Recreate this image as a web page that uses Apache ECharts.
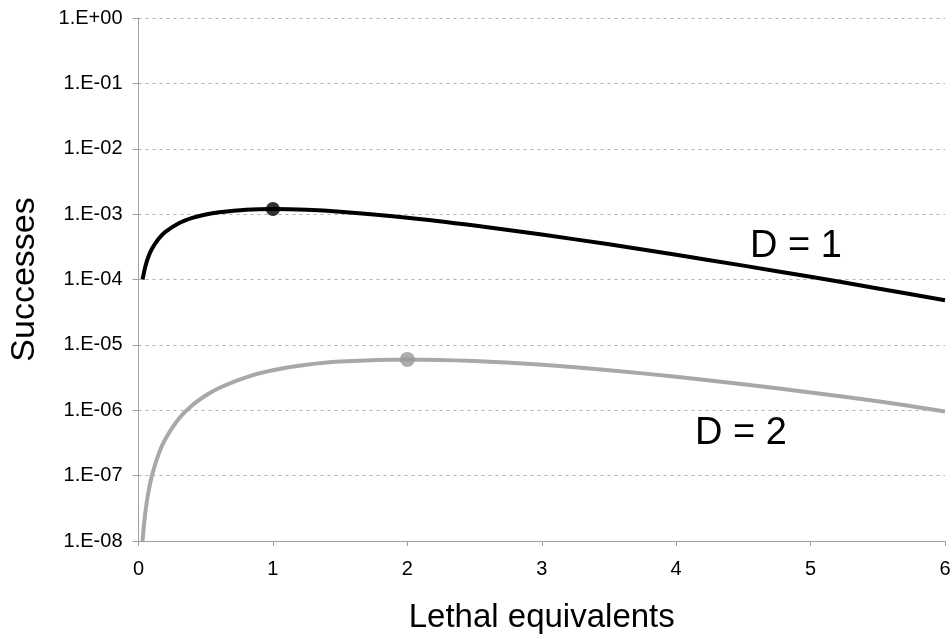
<!DOCTYPE html>
<html>
<head>
<meta charset="utf-8">
<script src="https://cdn.jsdelivr.net/npm/echarts@6/dist/echarts.min.js"></script>
<style>html,body{margin:0;padding:0;background:#fff}#c{width:952px;height:639px}</style>
</head>
<body>
<div id="c"></div>
<script>
// Lethal equivalents (x) sampled along the curves
var lethal = [0.03, 0.04, 0.05, 0.07, 0.1, 0.15, 0.2, 0.3, 0.4, 0.5, 0.6, 0.8, 1.0, 1.25, 1.5, 2.0, 2.5, 3.0, 3.5, 4.0, 4.5, 5.0, 5.5, 6.0];
// D = 1 successes
var successD1 = [1.0e-4, 1.25e-4, 1.55e-4, 2.13e-4, 2.95e-4, 4.21e-4, 5.34e-4, 7.24e-4, 8.74e-4, 9.89e-4, 1.07e-3, 1.17e-3, 1.20e-3, 1.17e-3, 1.09e-3, 8.82e-4, 6.69e-4, 4.87e-4, 3.45e-4, 2.39e-4, 1.63e-4, 1.10e-4, 7.3e-5, 4.8e-5];
// D = 2 successes
var successD2 = [1.0e-8, 1.7e-8, 2.63e-8, 5.05e-8, 1.0e-7, 2.15e-7, 3.63e-7, 7.39e-7, 1.19e-6, 1.68e-6, 2.19e-6, 3.19e-6, 4.08e-6, 4.96e-6, 5.56e-6, 6.0e-6, 5.68e-6, 4.97e-6, 4.10e-6, 3.25e-6, 2.49e-6, 1.87e-6, 1.37e-6, 9.6e-7];
// highlighted optimum points
var peakD1 = [1, 1.2e-3];
var peakD2 = [2, 6.0e-6];
// tick labels
var yTickLabels = ['1.E-08', '1.E-07', '1.E-06', '1.E-05', '1.E-04', '1.E-03', '1.E-02', '1.E-01', '1.E+00'];
var xTickLabels = ['0', '1', '2', '3', '4', '5', '6'];
var seriesNames = ['D = 1', 'D = 2'];

function pairs(xs, ys) { return xs.map(function (x, i) { return [x, ys[i]]; }); }

var font = 'Liberation Sans, Arial, sans-serif';
var chart = echarts.init(document.getElementById('c'), null, { renderer: 'canvas' });
chart.setOption({
  animation: false,
  backgroundColor: '#fff',
  grid: { left: 138.5, right: 7, top: 18, bottom: 98, containLabel: false, outerBoundsMode: 'none' },
  xAxis: {
    type: 'value', min: 0, max: 6, interval: 1,
    name: 'Lethal equivalents', nameLocation: 'middle', nameGap: 60,
    nameTextStyle: { fontFamily: font, fontSize: 33, color: '#000' },
    axisLine: { show: true, lineStyle: { color: '#a0a0a0', width: 1 } },
    axisTick: { show: true, length: 5, lineStyle: { color: '#a0a0a0' } },
    axisLabel: { fontFamily: font, fontSize: 20, color: '#000', margin: 18,
      formatter: function (v) { return xTickLabels[Math.round(v)]; } },
    splitLine: { show: false }
  },
  yAxis: {
    type: 'log', logBase: 10, min: 1e-8, max: 1, interval: 1,
    name: 'Successes', nameLocation: 'middle', nameGap: 97, nameRotate: 90,
    nameTextStyle: { fontFamily: font, fontSize: 34, color: '#000' },
    axisLine: { show: true, lineStyle: { color: '#a0a0a0', width: 1 } },
    axisTick: { show: true, length: 6, lineStyle: { color: '#a0a0a0' } },
    axisLabel: { fontFamily: font, fontSize: 20, color: '#000', margin: 16,
      formatter: function (v) { return yTickLabels[Math.round(Math.log10(v)) + 8]; } },
    splitLine: { show: true, lineStyle: { color: '#b0b0b0', width: 1, type: [3, 4] } }
  },
  series: [
    { name: seriesNames[0], type: 'line', data: pairs(lethal, successD1), smooth: 0.3,
      showSymbol: false, lineStyle: { color: '#000', width: 4 }, z: 3 },
    { name: seriesNames[1], type: 'line', data: pairs(lethal, successD2), smooth: 0.3,
      showSymbol: false, lineStyle: { color: '#a8a8a8', width: 4 }, z: 2 },
    { type: 'scatter', data: [peakD1], symbol: 'circle', symbolSize: 14,
      itemStyle: { color: '#000' }, z: 4 },
    { type: 'scatter', data: [peakD2], symbol: 'circle', symbolSize: 15,
      itemStyle: { color: '#999' }, z: 4 }
  ],
  graphic: [
    { type: 'text', left: 750, top: 228, style: { text: seriesNames[0], font: '38px ' + font, fill: '#000' } },
    { type: 'text', left: 695, top: 415, style: { text: seriesNames[1], font: '38px ' + font, fill: '#000' } }
  ]
});
</script>
</body>
</html>
